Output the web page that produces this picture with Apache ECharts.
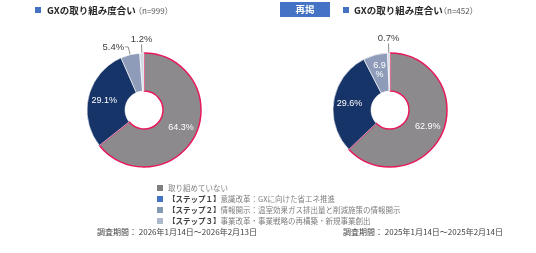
<!DOCTYPE html>
<html><head><meta charset="utf-8">
<script src="https://cdn.jsdelivr.net/npm/echarts@6/dist/echarts.min.js"></script>
<style>html,body{margin:0;padding:0;background:#fff}#c{width:536px;height:253px}</style>
</head><body><div id="c"></div>
<script>
const categories = ['取り組めていない', '【ステップ１】意識改革：GXに向けた省エネ推進', '【ステップ２】情報開示：温室効果ガス排出量と削減施策の情報開示', '【ステップ３】事業改革・事業戦略の再構築・新規事業創出'];
const values2026 = [64.3, 29.1, 5.4, 1.2];
const values2025 = [62.9, 29.6, 6.9, 0.7];
const titles = ['GXの取り組み度合い', 'GXの取り組み度合い'];
const sampleSizes = ['（n=999）', '（n=452）'];
const periods = ['調査期間： 2026年1月14日～2026年2月13日', '調査期間： 2025年1月14日～2025年2月14日'];
const reprintLabel = '再掲';

const pieColors = ['#8c8a8d', '#163468', '#8e9cb9', '#d3d9e3'];
const legendColors = ['#7f7f7f', '#4472c4', '#8497b0', '#adb9ca'];
const FONT = '"Noto Sans CJK JP", "Liberation Sans", sans-serif';
const NUMFONT = '"Liberation Sans", Arial, sans-serif';

function buildData(values, outside, wrapped) {
  return values.map((v, i) => {
    const item = {
      name: categories[i], value: v,
      itemStyle: { color: pieColors[i], borderColor: i === 0 ? '#e8195b' : '#ffffff', borderWidth: i === 0 ? 1.5 : 0.6 }
    };
    if (outside[i]) {
      item.label = { position: 'outside', color: '#404040', formatter: '{c}%', distanceToLabelLine: 1, fontSize: 9.5 };
      item.labelLine = { show: true, length: outside[i][0], length2: outside[i][1], lineStyle: { color: '#8c8c8c', width: 1 } };
    } else if (wrapped[i]) {
      item.label = { formatter: '{c}\n%', lineHeight: 9 };
    }
    return item;
  });
}

function pie(center, values, outside, wrapped, topCentered) {
  return {
    type: 'pie', center: center, radius: [19, 57], startAngle: 90, clockwise: true,
    avoidLabelOverlap: false, animation: false,
    labelLayout: function (p) {
      if (topCentered[p.dataIndex] && p.labelLinePoints) {
        const pts = p.labelLinePoints;
        const end = pts[1];
        return { x: end[0], y: end[1] - 0.5, align: 'center', verticalAlign: 'bottom', hideOverlap: false };
      }
      return { hideOverlap: false };
    },
    label: { show: true, position: 'inside', formatter: '{c}%', color: '#ffffff', fontSize: 9, fontFamily: NUMFONT },
    labelLine: { show: false },
    emphasis: { disabled: true },
    data: buildData(values, outside, wrapped)
  };
}

const chart = echarts.init(document.getElementById('c'), null, { renderer: 'canvas' });
chart.setOption({
  animation: false,
  legend: {
    orient: 'vertical', left: 157, top: 184, padding: 0, itemWidth: 6, itemHeight: 6, itemGap: 3,
    icon: 'rect', selectedMode: false,
    itemStyle: { borderWidth: 0 },
    data: categories.map((c, i) => ({ name: c, itemStyle: { color: legendColors[i], borderWidth: 0 } })),
    formatter: function (name) {
      const k = name.indexOf('】');
      if (k < 0) return '{b|' + name + '}';
      return '{a|' + name.slice(0, k + 1) + '}{b|' + name.slice(k + 1) + '}';
    },
    textStyle: {
      fontFamily: FONT, fontSize: 7.5, color: '#595959', lineHeight: 8,
      rich: {
        a: { fontFamily: FONT, fontSize: 7.5, color: '#404040', fontWeight: 'bold', lineHeight: 8 },
        b: { fontFamily: FONT, fontSize: 7.5, color: '#7f7f7f', lineHeight: 8 }
      }
    }
  },
  graphic: [
    { type: 'rect', shape: { x: 35, y: 7, width: 6, height: 6 }, style: { fill: '#4472c4' } },
    { type: 'text', x: 47, y: 10.5, style: { text: titles[0], font: 'bold 9.5px ' + FONT, fill: '#262626', textVerticalAlign: 'middle' } },
    { type: 'text', x: 134, y: 11, style: { text: sampleSizes[0], font: '8px ' + FONT, fill: '#595959', textVerticalAlign: 'middle' } },
    { type: 'rect', shape: { x: 280, y: 2, width: 50, height: 15 }, style: { fill: '#4472c4' } },
    { type: 'text', x: 305, y: 9.5, style: { text: reprintLabel, font: 'bold 9.5px ' + FONT, fill: '#ffffff', textAlign: 'center', textVerticalAlign: 'middle' } },
    { type: 'rect', shape: { x: 343, y: 7, width: 6, height: 6 }, style: { fill: '#4472c4' } },
    { type: 'text', x: 354, y: 10.5, style: { text: titles[1], font: 'bold 9.5px ' + FONT, fill: '#262626', textVerticalAlign: 'middle' } },
    { type: 'text', x: 439, y: 11, style: { text: sampleSizes[1], font: '8px ' + FONT, fill: '#595959', textVerticalAlign: 'middle' } },
    { type: 'text', x: 97, y: 232, style: { text: periods[0], font: '8px ' + FONT, fill: '#404040', textVerticalAlign: 'middle' } },
    { type: 'text', x: 343, y: 232, style: { text: periods[1], font: '8px ' + FONT, fill: '#404040', textVerticalAlign: 'middle' } }
  ],
  series: [
    pie([144, 110], values2026, [null, null, [8, 3], [8, 0]], [], [false, false, false, true]),
    pie([390, 110], values2025, [null, null, null, [9, 0]], [false, false, true, false], [false, false, false, true])
  ]
});
</script></body></html>
